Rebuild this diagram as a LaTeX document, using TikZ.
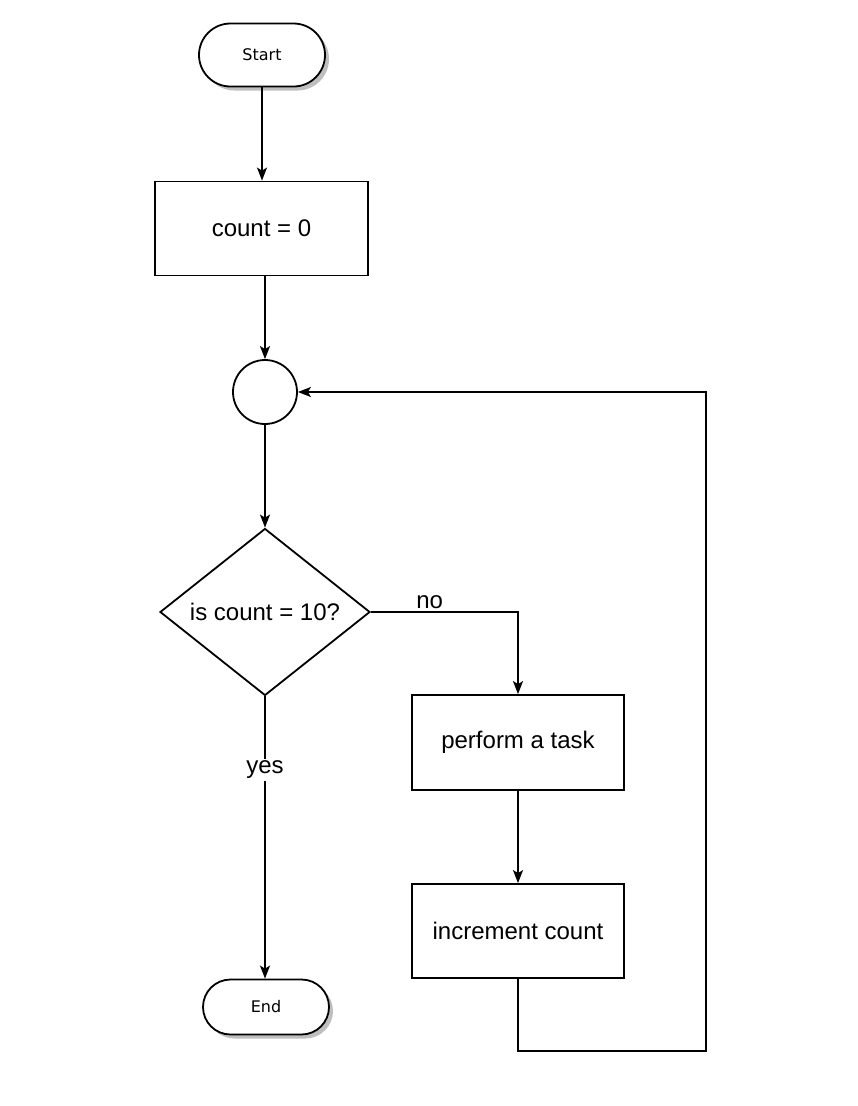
\documentclass[tikz,border=0pt]{standalone}
\usepackage{fontspec}
\setmainfont{Liberation Sans}
\newfontfamily\termfont{DejaVu Sans}
\usetikzlibrary{shapes.geometric,shapes.misc,arrows.meta,shadows}
\tikzset{
  base/.style={draw=black, line width=1.8pt, fill=white, font=\fontsize{24}{28}\selectfont},
  term/.style={base, rounded rectangle, inner sep=0pt, font=\termfont\fontsize{16}{19}\selectfont,
    drop shadow={shadow xshift=4pt, shadow yshift=-4pt, fill=black!25, opacity=1}},
  proc/.style={base, rectangle, inner sep=0pt, minimum width=213pt, minimum height=94pt},
  circ/.style={base, circle, inner sep=0pt, minimum size=64pt},
  dec/.style={base, diamond, inner sep=0pt, aspect=1.26, minimum width=210pt, minimum height=167pt},
  arr/.style={line width=1.8pt, -{Stealth[length=13pt,width=10pt,inset=3pt]}},
  lbl/.style={font=\fontsize{24}{28}\selectfont, inner sep=2pt}
}
\begin{document}
\begin{tikzpicture}[x=1pt,y=-1pt]
\useasboundingbox[fill=white] (0,0) rectangle (858,1106);
\node[term, minimum width=126pt, minimum height=63pt] (start) at (262,55) {Start};
\node[proc] (init) at (261.5,228.5) {\raisebox{-3pt}{count = 0}};
\node[circ] (join) at (265,392) {};
\node[dec] (dec) at (265,612) {\raisebox{-1pt}{is count = 10?}};
\node[proc, minimum width=212pt, minimum height=95pt] (task) at (518,742.5) {\raisebox{-3pt}{perform a task}};
\node[proc, minimum width=212pt, minimum height=94pt] (inc) at (518,931) {\raisebox{-2pt}{increment count}};
\node[term, minimum width=126pt, minimum height=55pt] (end) at (266,1007) {End};
\coordinate (c1) at (706,1051);

\draw[arr] (start.south) -- (start.south |- init.north);
\draw[arr] (join |- init.south) -- (join.north);
\draw[arr] (join.south) -- (dec.north);
\draw[arr] (dec.east) -| node[lbl, pos=0.2, anchor=south] (no) {no} (task.north);
\draw[arr] (dec.south) -- node[lbl, pos=0.26, fill=white] (yes) {yes} (dec.south |- end.north);
\draw[arr] (task.south) -- (inc.north);
\draw[arr] (inc.south) |- (c1) |- (join.east);
\end{tikzpicture}
\end{document}
